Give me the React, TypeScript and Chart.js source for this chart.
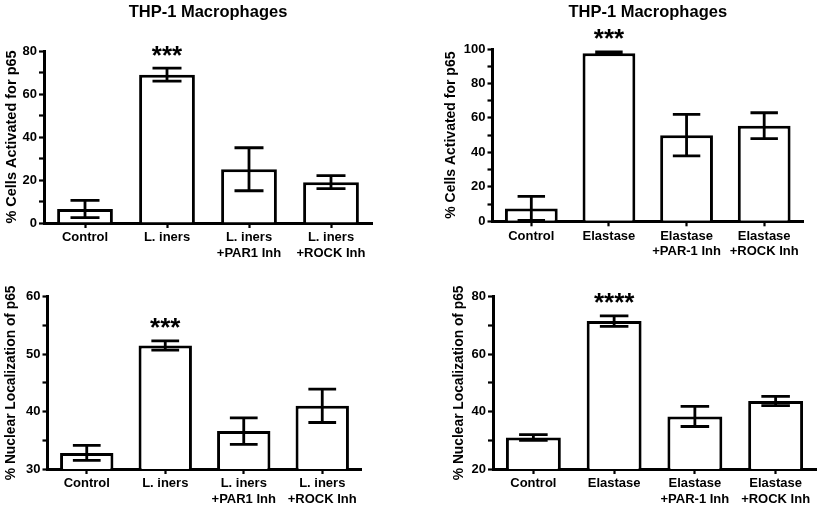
import React, { useEffect, useRef } from "react";
import { Chart, registerables } from "chart.js";

Chart.register(...registerables);

const FONT = '"Liberation Sans", Arial, Helvetica, sans-serif';
const PANEL_TITLE = "THP-1 Macrophages";

// ---- Panel A (top-left) ----
const aLabels = [["Control"], ["L. iners"], ["L. iners", "+PAR1 Inh"], ["L. iners", "+ROCK Inh"]];
const aMeans = [6.5, 69, 25, 19];
const aSem = [4, 3, 10, 3];
const aStars = ["", "***", "", ""];
const aYTitle = "% Cells Activated for p65";
const aTicks = { min: 0, max: 80, step: 10, major: 20 };

// ---- Panel B (top-right) ----
const bLabels = [["Control"], ["Elastase"], ["Elastase", "+PAR-1 Inh"], ["Elastase", "+ROCK Inh"]];
const bMeans = [7.5, 97.5, 50, 55.5];
const bSem = [7, 0.8, 12, 7.5];
const bStars = ["", "***", "", ""];
const bYTitle = "% Cells Activated for p65";
const bTicks = { min: 0, max: 100, step: 10, major: 20 };

// ---- Panel C (bottom-left) ----
const cLabels = [["Control"], ["L. iners"], ["L. iners", "+PAR1 Inh"], ["L. iners", "+ROCK Inh"]];
const cMeans = [32.8, 51.5, 36.6, 41];
const cSem = [1.3, 0.8, 2.3, 2.9];
const cStars = ["", "***", "", ""];
const cYTitle = "% Nuclear Localization of p65";
const cTicks = { min: 30, max: 60, step: 5, major: 10 };

// ---- Panel D (bottom-right) ----
const dLabels = [["Control"], ["Elastase"], ["Elastase", "+PAR-1 Inh"], ["Elastase", "+ROCK Inh"]];
const dMeans = [31, 71.5, 38.3, 43.7];
const dSem = [1, 1.8, 3.5, 1.6];
const dStars = ["", "****", "", ""];
const dYTitle = "% Nuclear Localization of p65";
const dTicks = { min: 20, max: 80, step: 10, major: 20 };

// layout of each panel's plot area in the page
const W = 819;
const H = 508;
const XH = 36;
const LAYOUT = [
  { L: 44, R: 372, T: 51, B: 223, yW: 40.7, titleSize: 14.5, showTitle: true },
  { L: 492.5, R: 803, T: 49, B: 221.3, yW: 49.6, titleSize: 14, showTitle: true },
  { L: 47.5, R: 361.5, T: 296.7, B: 469, yW: 44.9, titleSize: 13.8, showTitle: false },
  { L: 493, R: 816, T: 296.7, B: 469, yW: 42.4, titleSize: 13.8, showTitle: false },
];

const PANELS = [
  { labels: aLabels, means: aMeans, sem: aSem, stars: aStars, yTitle: aYTitle, ticks: aTicks },
  { labels: bLabels, means: bMeans, sem: bSem, stars: bStars, yTitle: bYTitle, ticks: bTicks },
  { labels: cLabels, means: cMeans, sem: cSem, stars: cStars, yTitle: cYTitle, ticks: cTicks },
  { labels: dLabels, means: dMeans, sem: dSem, stars: dStars, yTitle: dYTitle, ticks: dTicks },
];

function makeExtras(p: any, lay: any) {
  return {
    id: "panelExtras",
    afterDatasetsDraw(chart: any) {
      const ctx = chart.ctx;
      const y = chart.scales.y;
      const meta = chart.getDatasetMeta(0);
      ctx.save();
      ctx.strokeStyle = "#000";
      ctx.lineWidth = 2.8;
      ctx.lineCap = "butt";
      meta.data.forEach((bar: any, i: number) => {
        const m = p.means[i];
        const s = p.sem[i];
        const x = bar.x;
        const cap = bar.width * 0.26;
        const yHi = y.getPixelForValue(m + s);
        const yLo = y.getPixelForValue(Math.max(m - s, y.min));
        ctx.beginPath();
        ctx.moveTo(x, yHi);
        ctx.lineTo(x, yLo);
        ctx.moveTo(x - cap, yHi);
        ctx.lineTo(x + cap, yHi);
        ctx.moveTo(x - cap, yLo);
        ctx.lineTo(x + cap, yLo);
        ctx.stroke();
        if (p.stars[i]) {
          const size = 26;
          ctx.font = `bold ${size}px ${FONT}`;
          ctx.fillStyle = "#000";
          ctx.textAlign = "center";
          ctx.textBaseline = "alphabetic";
          ctx.fillText(p.stars[i], x, yHi - 17 + 0.48 * size);
        }
      });
      ctx.restore();
    },
    afterDraw(chart: any) {
      if (!lay.showTitle) return;
      const ctx = chart.ctx;
      const a = chart.chartArea;
      ctx.save();
      ctx.font = `bold 16.5px ${FONT}`;
      ctx.fillStyle = "#000";
      ctx.textAlign = "center";
      ctx.textBaseline = "middle";
      ctx.fillText(PANEL_TITLE, (a.left + a.right) / 2, 12);
      ctx.restore();
    },
  };
}

function makeConfig(p: any, lay: any): any {
  const gridOpts = {
    display: true,
    offset: false,
    drawOnChartArea: false,
    drawTicks: true,
    tickLength: 5,
    tickWidth: 2.2,
    tickColor: "#000",
  };
  const borderOpts = { display: true, color: "#000", width: 3 };
  return {
    type: "bar",
    data: {
      labels: p.labels,
      datasets: [
        {
          data: p.means,
          backgroundColor: "#fff",
          borderColor: "#000",
          borderWidth: 3,
          borderSkipped: "start",
          barPercentage: 0.68,
          categoryPercentage: 1,
        },
      ],
    },
    options: {
      responsive: false,
      animation: false,
      devicePixelRatio: 1,
      layout: {
        padding: {
          left: lay.L - lay.yW,
          right: W - lay.R,
          top: lay.T,
          bottom: H - lay.B - XH,
        },
      },
      plugins: {
        legend: { display: false },
        tooltip: { enabled: false },
        title: { display: false },
      },
      scales: {
        x: {
          z: 1,
          afterFit: (s: any) => {
            s.height = XH;
          },
          grid: gridOpts,
          border: borderOpts,
          ticks: {
            color: "#000",
            font: { family: FONT, size: 13, weight: "bold" },
            padding: 2,
            autoSkip: false,
            maxRotation: 0,
            minRotation: 0,
          },
        },
        y: {
          z: 1,
          min: p.ticks.min,
          max: p.ticks.max,
          afterFit: (s: any) => {
            s.width = lay.yW;
          },
          grid: gridOpts,
          border: borderOpts,
          ticks: {
            stepSize: p.ticks.step,
            color: "#000",
            font: { family: FONT, size: 13, weight: "bold" },
            padding: 2,
            autoSkip: false,
            callback: (v: any) => (Math.round(v) % p.ticks.major === 0 ? String(v) : ""),
          },
          title: {
            display: true,
            text: p.yTitle,
            color: "#000",
            font: { family: FONT, size: lay.titleSize, weight: "bold" },
            padding: 0,
          },
        },
      },
    },
    plugins: [makeExtras(p, lay)],
  };
}

export default function App() {
  const canvases = useRef<(HTMLCanvasElement | null)[]>([]);
  useEffect(() => {
    const charts = PANELS.map((p, i) => new Chart(canvases.current[i] as HTMLCanvasElement, makeConfig(p, LAYOUT[i])));
    return () => charts.forEach((c) => c.destroy());
  }, []);
  return (
    <div style={{ position: "fixed", left: 0, top: 0, width: W, height: H, background: "#fff" }}>
      {PANELS.map((_, i) => (
        <canvas
          key={i}
          ref={(el) => {
            canvases.current[i] = el;
          }}
          width={W}
          height={H}
          style={{ position: "absolute", left: 0, top: 0, width: W, height: H }}
        />
      ))}
    </div>
  );
}
